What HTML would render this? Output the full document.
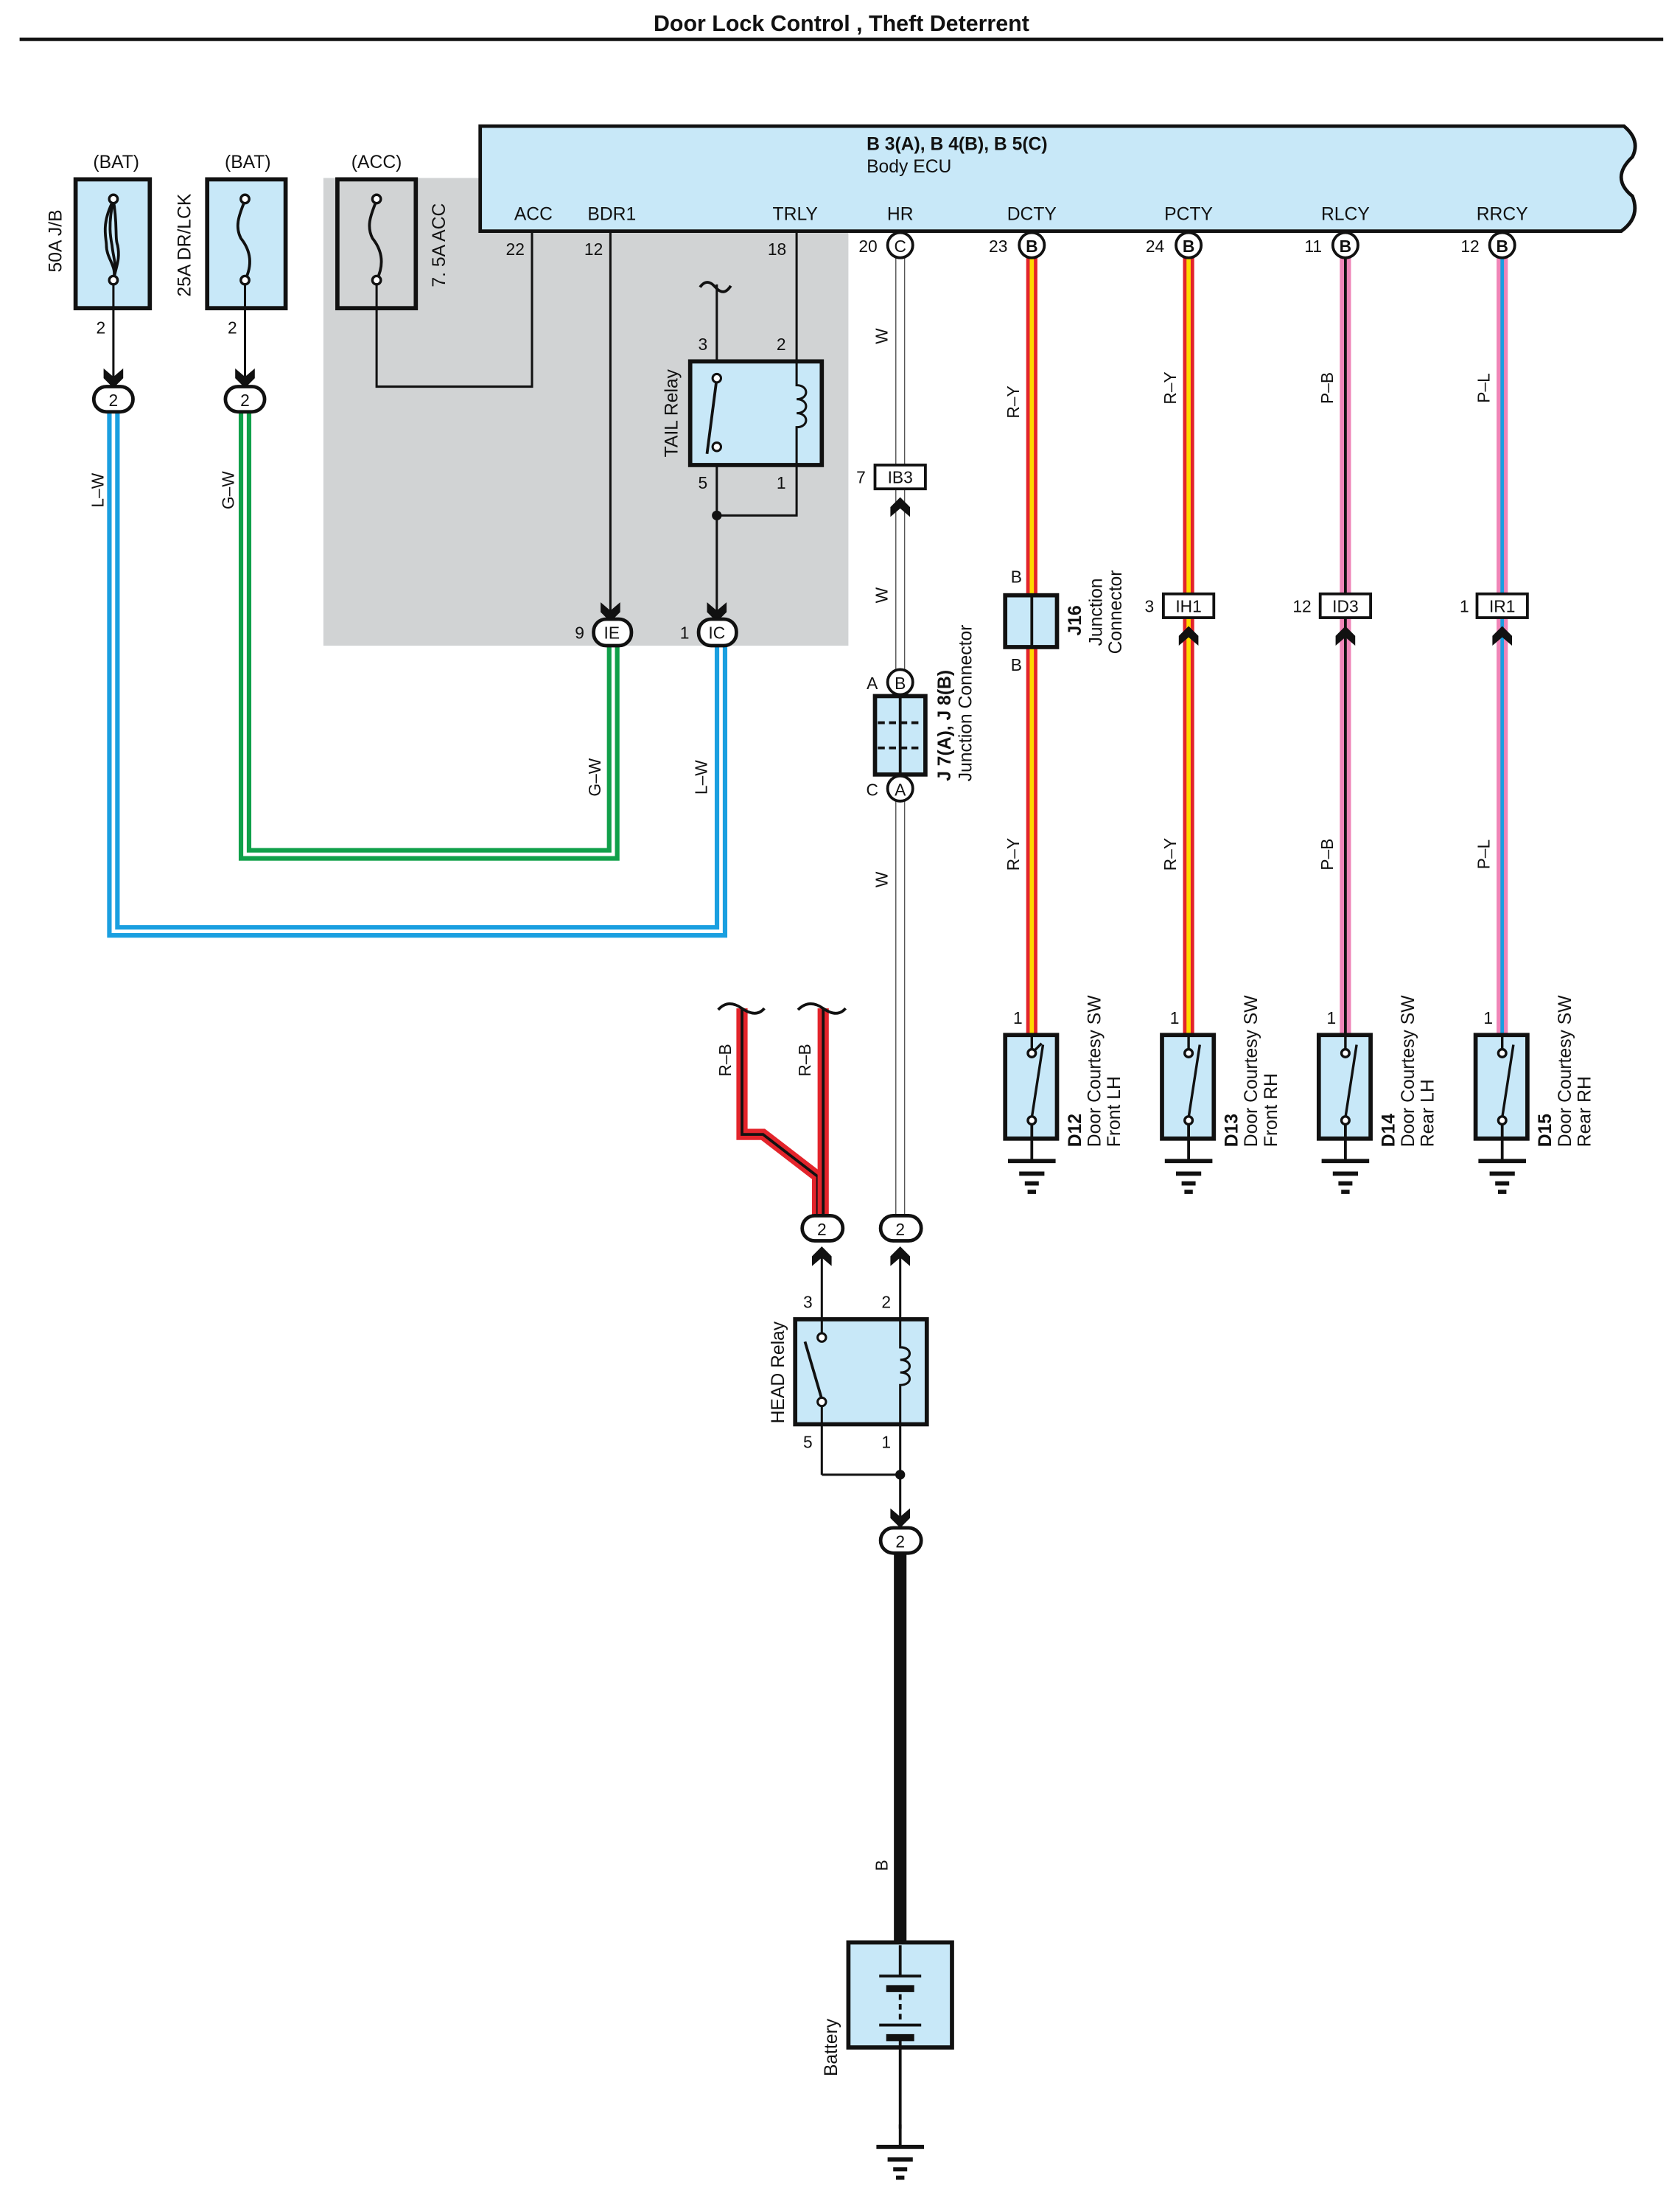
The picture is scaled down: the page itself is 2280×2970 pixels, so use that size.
<!DOCTYPE html>
<html><head><meta charset="utf-8"><style>
html,body{margin:0;padding:0;background:#fff}
svg{display:block}
text{font-family:"Liberation Sans",sans-serif;fill:#111}
</style></head><body>
<svg width="2280" height="2970" viewBox="0 0 1200 1563" xmlns="http://www.w3.org/2000/svg">
<defs>
<g id="chevD"><path d="M-7,-9 L0,-3 L7,-9 L7,-2 L0,5 L-7,-2 Z" fill="#111"/></g>
<g id="chevU"><path d="M-7,9 L0,3 L7,9 L7,2 L0,-5 L-7,2 Z" fill="#111"/></g>
<g id="gnd"><line x1="0" y1="0" x2="0" y2="16" stroke="#111" stroke-width="2"/><line x1="-17" y1="16" x2="17" y2="16" stroke="#111" stroke-width="3"/><line x1="-9" y1="25" x2="9" y2="25" stroke="#111" stroke-width="3"/><line x1="-5" y1="32" x2="5" y2="32" stroke="#111" stroke-width="3"/><line x1="-3" y1="38" x2="3" y2="38" stroke="#111" stroke-width="3"/></g>
</defs>

<!-- title -->
<text x="601" y="22" font-size="16" font-weight="bold" text-anchor="middle">Door Lock Control , Theft Deterrent</text>
<line x1="14" y1="28" x2="1188" y2="28" stroke="#111" stroke-width="2.5"/>

<!-- gray area -->
<rect x="231" y="127" width="375" height="334" fill="#d1d3d4"/>

<!-- ECU -->
<path d="M343,90 L1160,90 Q1172,100 1166,112 Q1150,127 1166,140 Q1172,155 1158,165 L343,165 Z" fill="#c8e8f8" stroke="#111" stroke-width="2.5"/>
<text x="619" y="107" font-size="13" font-weight="bold">B 3(A), B 4(B), B 5(C)</text>
<text x="619" y="123" font-size="13">Body ECU</text>
<g font-size="13" text-anchor="middle">
<text x="381" y="157">ACC</text><text x="437" y="157">BDR1</text><text x="568" y="157">TRLY</text><text x="643" y="157">HR</text>
<text x="737" y="157">DCTY</text><text x="849" y="157">PCTY</text><text x="961" y="157">RLCY</text><text x="1073" y="157">RRCY</text>
</g>
<g font-size="12" text-anchor="middle">
<text x="368" y="182">22</text><text x="424" y="182">12</text><text x="555" y="182">18</text><text x="620" y="180">20</text>
<text x="713" y="180">23</text><text x="825" y="180">24</text><text x="938" y="180">11</text><text x="1050" y="180">12</text>
</g>

<!-- fuses -->
<text x="83" y="120" font-size="13" text-anchor="middle">(BAT)</text>
<text x="177" y="120" font-size="13" text-anchor="middle">(BAT)</text>
<text x="269" y="120" font-size="13" text-anchor="middle">(ACC)</text>
<rect x="54" y="128" width="53" height="92" fill="#c8e8f8" stroke="#111" stroke-width="3"/>
<rect x="148" y="128" width="56" height="92" fill="#c8e8f8" stroke="#111" stroke-width="3"/>
<rect x="241" y="128" width="56" height="92" fill="#d1d3d4" stroke="#111" stroke-width="3"/>
<text transform="translate(44,172) rotate(-90)" font-size="13" text-anchor="middle">50A J/B</text>
<text transform="translate(136,175) rotate(-90)" font-size="13" text-anchor="middle">25A DR/LCK</text>
<text transform="translate(318,175) rotate(-90)" font-size="13" text-anchor="middle">7. 5A ACC</text>
<g fill="none" stroke="#111" stroke-width="2">
<path d="M81,143 C72,160 76,170 76,175 C76,185 84,190 81,200"/>
<path d="M81,143 C77,160 79,170 80,175 C81,185 84,190 81,200"/>
<path d="M81,143 C84,160 82,170 84,175 C86,185 83,190 81,200"/>
<path d="M175,143 C170,155 168,162 172,170 C180,180 180,190 175,200"/>
<path d="M269,143 C264,155 262,162 266,170 C274,180 274,190 269,200"/>
</g>
<g fill="#fff" stroke="#111" stroke-width="1.8">
<circle cx="81" cy="142" r="3"/><circle cx="81" cy="200" r="3"/>
<circle cx="175" cy="142" r="3"/><circle cx="175" cy="200" r="3"/>
<circle cx="269" cy="142" r="3"/><circle cx="269" cy="200" r="3"/>
</g>
<g stroke="#111" stroke-width="1.6" fill="none">
<line x1="81" y1="203" x2="81" y2="272"/>
<line x1="175" y1="203" x2="175" y2="272"/>
<polyline points="269,203 269,276 380,276 380,165"/>
<line x1="436" y1="165" x2="436" y2="438"/>
<polyline points="569,165 569,258"/>
<polyline points="512,203 512,438"/>
<polyline points="569,332 569,368 512,368"/>
</g>
<text x="72" y="238" font-size="12" text-anchor="middle">2</text>
<text x="166" y="238" font-size="12" text-anchor="middle">2</text>
<use href="#chevD" x="81" y="272"/><use href="#chevD" x="175" y="272"/>
<use href="#chevD" x="436" y="439"/><use href="#chevD" x="512" y="439"/>

<!-- TAIL relay -->
<path d="M500,205 Q505,198 511,205 T522,204" fill="none" stroke="#111" stroke-width="2"/>
<rect x="493" y="258" width="94" height="74" fill="#c8e8f8" stroke="#111" stroke-width="3"/>
<line x1="512" y1="268" x2="512" y2="320" stroke="#111" stroke-width="1.6"/>
<rect x="497" y="270" width="30" height="54" fill="#c8e8f8"/>
<line x1="505" y1="324" x2="512" y2="270" stroke="#111" stroke-width="2"/>
<circle cx="512" cy="270" r="3" fill="#fff" stroke="#111" stroke-width="1.6"/>
<circle cx="512" cy="319" r="3" fill="#fff" stroke="#111" stroke-width="1.6"/>
<path d="M569,258 L569,275 C578,275 578,285 569,285 C578,285 578,295 569,295 C578,295 578,305 569,305 L569,332" fill="none" stroke="#111" stroke-width="1.6"/>
<rect x="565" y="283" width="4" height="14" fill="#c8e8f8"/>
<g font-size="12" text-anchor="middle"><text x="502" y="250">3</text><text x="558" y="250">2</text><text x="502" y="349">5</text><text x="558" y="349">1</text></g>
<text transform="translate(484,295) rotate(-90)" font-size="13" text-anchor="middle">TAIL Relay</text>
<circle cx="512" cy="368" r="3.5" fill="#111"/>

<!-- L-W and G-W wires -->
<polyline points="81,295 81,665 515,665 515,461" fill="none" stroke="#1a9fe0" stroke-width="9"/>
<polyline points="81,295 81,665 515,665 515,461" fill="none" stroke="#fff" stroke-width="2.5"/>
<polyline points="175,295 175,610 438,610 438,461" fill="none" stroke="#10a04a" stroke-width="9"/>
<polyline points="175,295 175,610 438,610 438,461" fill="none" stroke="#fff" stroke-width="2.5"/>
<g font-size="12" text-anchor="middle">
<text transform="translate(74,350) rotate(-90)">L–W</text>
<text transform="translate(167,350) rotate(-90)">G–W</text>
<text transform="translate(429,555) rotate(-90)">G–W</text>
<text transform="translate(505,555) rotate(-90)">L–W</text>
</g>

<!-- connector ovals -->
<g fill="#fff" stroke="#111" stroke-width="2.5">
<rect x="67" y="276" width="28" height="18" rx="9"/>
<rect x="161" y="276" width="28" height="18" rx="9"/>
<rect x="424" y="442" width="27" height="19" rx="9"/>
<rect x="499" y="442" width="27" height="19" rx="9"/>
</g>
<g font-size="12" text-anchor="middle">
<text x="81" y="290">2</text><text x="175" y="290">2</text>
<text x="437" y="456">IE</text><text x="512" y="456">IC</text>
<text x="414" y="456">9</text><text x="489" y="456">1</text>
</g>

<!-- HR wire -->
<line x1="643" y1="184" x2="643" y2="868" stroke="#555" stroke-width="7"/>
<line x1="643" y1="184" x2="643" y2="868" stroke="#fff" stroke-width="5.5"/>
<g font-size="12" text-anchor="middle">
<text transform="translate(634,240) rotate(-90)">W</text>
<text transform="translate(634,425) rotate(-90)">W</text>
<text transform="translate(634,628) rotate(-90)">W</text>
</g>
<rect x="625" y="332" width="36" height="17" fill="#fff" stroke="#111" stroke-width="2"/>
<text x="643" y="345" font-size="12" text-anchor="middle">IB3</text>
<text x="615" y="345" font-size="12" text-anchor="middle">7</text>
<use href="#chevU" x="643" y="360"/>
<!-- J7/J8 -->
<rect x="625" y="497" width="36" height="56" fill="#c8e8f8" stroke="#111" stroke-width="3"/>
<line x1="627" y1="516" x2="659" y2="516" stroke="#111" stroke-width="2" stroke-dasharray="5,3"/>
<line x1="627" y1="534" x2="659" y2="534" stroke="#111" stroke-width="2" stroke-dasharray="5,3"/>
<line x1="643" y1="497" x2="643" y2="553" stroke="#111" stroke-width="2"/>
<circle cx="643" cy="487" r="9" fill="#fff" stroke="#111" stroke-width="2"/>
<circle cx="643" cy="563" r="9" fill="#fff" stroke="#111" stroke-width="2"/>
<g font-size="12" text-anchor="middle"><text x="643" y="492">B</text><text x="643" y="568">A</text><text x="623" y="492">A</text><text x="623" y="568">C</text></g>
<text transform="translate(679,518) rotate(-90)" font-size="13" font-weight="bold" text-anchor="middle">J 7(A), J 8(B)</text>
<text transform="translate(694,502) rotate(-90)" font-size="13" text-anchor="middle">Junction Connector</text>

<!-- colored wires to switches -->
<line x1="737" y1="184" x2="737" y2="738" stroke="#e3242b" stroke-width="8"/>
<line x1="737" y1="184" x2="737" y2="738" stroke="#ffd800" stroke-width="3"/>
<line x1="849" y1="184" x2="849" y2="738" stroke="#e3242b" stroke-width="8"/>
<line x1="849" y1="184" x2="849" y2="738" stroke="#ffd800" stroke-width="3"/>
<line x1="961" y1="184" x2="961" y2="738" stroke="#ef85b8" stroke-width="8"/>
<line x1="961" y1="184" x2="961" y2="738" stroke="#111" stroke-width="2"/>
<line x1="1073" y1="184" x2="1073" y2="738" stroke="#ef85b8" stroke-width="8"/>
<line x1="1073" y1="184" x2="1073" y2="738" stroke="#1a9fe0" stroke-width="2.5"/>

<g fill="#fff" stroke="#111" stroke-width="2">
<circle cx="643" cy="175" r="9"/><circle cx="737" cy="175" r="9"/><circle cx="849" cy="175" r="9"/><circle cx="961" cy="175" r="9"/><circle cx="1073" cy="175" r="9"/>
</g>
<g font-size="12" text-anchor="middle" font-weight="bold">
<text x="643" y="180" font-weight="normal">C</text><text x="737" y="180">B</text><text x="849" y="180">B</text><text x="961" y="180">B</text><text x="1073" y="180">B</text>
</g>

<g font-size="12" text-anchor="middle">
<text transform="translate(728,287) rotate(-90)">R–Y</text><text transform="translate(840,277) rotate(-90)">R–Y</text>
<text transform="translate(952,277) rotate(-90)">P–B</text><text transform="translate(1064,277) rotate(-90)">P–L</text>
<text transform="translate(728,610) rotate(-90)">R–Y</text><text transform="translate(840,610) rotate(-90)">R–Y</text>
<text transform="translate(952,610) rotate(-90)">P–B</text><text transform="translate(1064,610) rotate(-90)">P–L</text>
</g>

<!-- J16 -->
<rect x="718" y="425" width="37" height="37" fill="#c8e8f8" stroke="#111" stroke-width="3"/>
<line x1="737" y1="425" x2="737" y2="462" stroke="#111" stroke-width="2"/>
<text x="726" y="416" font-size="12" text-anchor="middle">B</text>
<text x="726" y="479" font-size="12" text-anchor="middle">B</text>
<text transform="translate(772,443) rotate(-90)" font-size="13" font-weight="bold" text-anchor="middle">J16</text>
<text transform="translate(787,437) rotate(-90)" font-size="13" text-anchor="middle">Junction</text>
<text transform="translate(801,437) rotate(-90)" font-size="13" text-anchor="middle">Connector</text>

<!-- inline connectors -->
<g fill="#fff" stroke="#111" stroke-width="2">
<rect x="831" y="424" width="36" height="17"/><rect x="943" y="424" width="36" height="17"/><rect x="1055" y="424" width="36" height="17"/>
</g>
<g font-size="12" text-anchor="middle">
<text x="849" y="437">IH1</text><text x="961" y="437">ID3</text><text x="1073" y="437">IR1</text>
<text x="821" y="437">3</text><text x="930" y="437">12</text><text x="1046" y="437">1</text>
</g>
<use href="#chevU" x="849" y="452"/><use href="#chevU" x="961" y="452"/><use href="#chevU" x="1073" y="452"/>

<!-- door switches -->
<g id="sw1">
<rect x="718" y="739" width="37" height="74" fill="#c8e8f8" stroke="#111" stroke-width="3"/>
</g>
<rect x="830" y="739" width="37" height="74" fill="#c8e8f8" stroke="#111" stroke-width="3"/>
<rect x="942" y="739" width="37" height="74" fill="#c8e8f8" stroke="#111" stroke-width="3"/>
<rect x="1054" y="739" width="37" height="74" fill="#c8e8f8" stroke="#111" stroke-width="3"/>
<g stroke="#111" stroke-width="1.8" fill="#fff">
<line x1="737" y1="740" x2="737" y2="749"/><line x1="737" y1="752" x2="744" y2="745"/><line x1="737" y1="798" x2="745" y2="746"/><circle cx="737" cy="752" r="2.8"/><circle cx="737" cy="800" r="2.8"/>
<line x1="849" y1="740" x2="849" y2="749"/><line x1="849" y1="798" x2="857" y2="746"/><circle cx="849" cy="752" r="2.8"/><circle cx="849" cy="800" r="2.8"/>
<line x1="961" y1="740" x2="961" y2="749"/><line x1="961" y1="798" x2="969" y2="746"/><circle cx="961" cy="752" r="2.8"/><circle cx="961" cy="800" r="2.8"/>
<line x1="1073" y1="740" x2="1073" y2="749"/><line x1="1073" y1="798" x2="1081" y2="746"/><circle cx="1073" cy="752" r="2.8"/><circle cx="1073" cy="800" r="2.8"/>
</g>
<g stroke="#111" stroke-width="2"><line x1="737" y1="803" x2="737" y2="813"/><line x1="849" y1="803" x2="849" y2="813"/><line x1="961" y1="803" x2="961" y2="813"/><line x1="1073" y1="803" x2="1073" y2="813"/></g>
<use href="#gnd" x="737" y="813"/><use href="#gnd" x="849" y="813"/><use href="#gnd" x="961" y="813"/><use href="#gnd" x="1073" y="813"/>
<g font-size="12" text-anchor="middle"><text x="727" y="731">1</text><text x="839" y="731">1</text><text x="951" y="731">1</text><text x="1063" y="731">1</text></g>
<g font-size="13">
<text transform="translate(772,819) rotate(-90)" font-weight="bold">D12</text>
<text transform="translate(786,819) rotate(-90)">Door Courtesy SW</text>
<text transform="translate(800,819) rotate(-90)">Front LH</text>
<text transform="translate(884,819) rotate(-90)" font-weight="bold">D13</text>
<text transform="translate(898,819) rotate(-90)">Door Courtesy SW</text>
<text transform="translate(912,819) rotate(-90)">Front RH</text>
<text transform="translate(996,819) rotate(-90)" font-weight="bold">D14</text>
<text transform="translate(1010,819) rotate(-90)">Door Courtesy SW</text>
<text transform="translate(1024,819) rotate(-90)">Rear LH</text>
<text transform="translate(1108,819) rotate(-90)" font-weight="bold">D15</text>
<text transform="translate(1122,819) rotate(-90)">Door Courtesy SW</text>
<text transform="translate(1136,819) rotate(-90)">Rear RH</text>
</g>

<!-- R-B wires -->
<polyline points="530,720 530,810 545,810 584,840 584,868" fill="none" stroke="#e3242b" stroke-width="8"/>
<polyline points="530,720 530,810 545,810 584,840 584,868" fill="none" stroke="#111" stroke-width="2"/>
<line x1="588" y1="720" x2="588" y2="868" stroke="#e3242b" stroke-width="8"/>
<line x1="588" y1="720" x2="588" y2="868" stroke="#111" stroke-width="2"/>
<path d="M513,721 Q520,713 530,720 T546,720" fill="none" stroke="#111" stroke-width="2"/>
<path d="M570,721 Q578,713 588,720 T604,720" fill="none" stroke="#111" stroke-width="2"/>
<g font-size="12" text-anchor="middle">
<text transform="translate(522,757) rotate(-90)">R–B</text>
<text transform="translate(579,757) rotate(-90)">R–B</text>
</g>

<!-- HEAD relay -->
<g stroke="#111" stroke-width="1.6" fill="none">
<line x1="587" y1="895" x2="587" y2="1053"/>
<line x1="643" y1="895" x2="643" y2="1088"/>
<line x1="587" y1="1053" x2="643" y2="1053"/>
</g>
<g fill="#fff" stroke="#111" stroke-width="2.5">
<rect x="573" y="868" width="29" height="18" rx="9"/>
<rect x="629" y="868" width="29" height="18" rx="9"/>
<rect x="629" y="1091" width="29" height="18" rx="9"/>
</g>
<g font-size="12" text-anchor="middle"><text x="587" y="882">2</text><text x="643" y="882">2</text><text x="643" y="1105">2</text></g>
<use href="#chevU" x="587" y="895"/><use href="#chevU" x="643" y="895"/>
<use href="#chevD" x="643" y="1086"/>
<rect x="568" y="942" width="94" height="75" fill="#c8e8f8" stroke="#111" stroke-width="3"/>
<line x1="587" y1="942" x2="587" y2="953" stroke="#111" stroke-width="1.6"/>
<line x1="587" y1="1004" x2="587" y2="1017" stroke="#111" stroke-width="1.6"/>
<line x1="575" y1="958" x2="587" y2="999" stroke="#111" stroke-width="2"/>
<circle cx="587" cy="955" r="3" fill="#fff" stroke="#111" stroke-width="1.6"/>
<circle cx="587" cy="1001" r="3" fill="#fff" stroke="#111" stroke-width="1.6"/>
<path d="M643,942 L643,962 C652,962 652,971 643,971 C652,971 652,980 643,980 C652,980 652,989 643,989 L643,1017" fill="none" stroke="#111" stroke-width="1.6"/>
<g font-size="12" text-anchor="middle"><text x="577" y="934">3</text><text x="633" y="934">2</text><text x="577" y="1034">5</text><text x="633" y="1034">1</text></g>
<text transform="translate(560,980) rotate(-90)" font-size="13" text-anchor="middle">HEAD Relay</text>
<circle cx="643" cy="1053" r="3.5" fill="#111"/>

<!-- battery -->
<line x1="643" y1="1109" x2="643" y2="1388" stroke="#111" stroke-width="9"/>
<text transform="translate(634,1332) rotate(-90)" font-size="12" text-anchor="middle">B</text>
<rect x="606" y="1387" width="74" height="75" fill="#c8e8f8" stroke="#111" stroke-width="3"/>
<g stroke="#111">
<line x1="643" y1="1389" x2="643" y2="1411" stroke-width="2"/>
<line x1="628" y1="1411" x2="658" y2="1411" stroke-width="2"/>
<line x1="633" y1="1420" x2="653" y2="1420" stroke-width="5"/>
<line x1="643" y1="1424" x2="643" y2="1444" stroke-width="2" stroke-dasharray="4,3"/>
<line x1="628" y1="1446" x2="658" y2="1446" stroke-width="2"/>
<line x1="633" y1="1455" x2="653" y2="1455" stroke-width="5"/>
<line x1="643" y1="1457" x2="643" y2="1462" stroke-width="2"/>
</g>
<text transform="translate(598,1462) rotate(-90)" font-size="13" text-anchor="middle">Battery</text>
<line x1="643" y1="1462" x2="643" y2="1520" stroke="#111" stroke-width="2"/>
<use href="#gnd" x="643" y="1517"/>
</svg>
</body></html>
